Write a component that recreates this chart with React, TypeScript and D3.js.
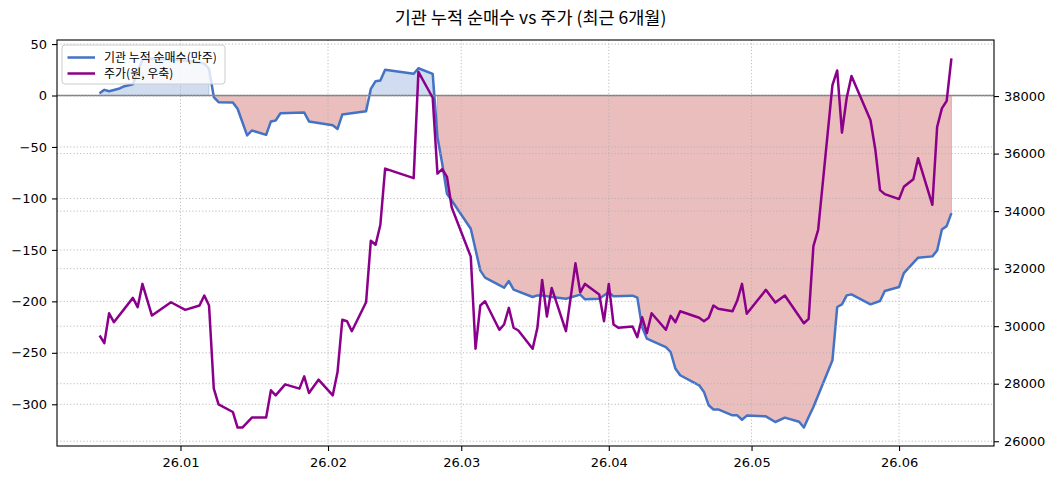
import React from "react";
import * as d3 from "d3";

// 기관 누적 순매수 (만주)
const instDates = [
  "2025-12-15", "2025-12-16", "2025-12-17", "2025-12-19", "2025-12-20", "2025-12-22", "2025-12-24",
  "2025-12-26", "2025-12-29", "2025-12-30", "2026-01-02", "2026-01-05", "2026-01-06", "2026-01-07",
  "2026-01-08", "2026-01-09", "2026-01-12", "2026-01-13", "2026-01-15", "2026-01-16", "2026-01-19",
  "2026-01-20", "2026-01-21", "2026-01-22", "2026-01-27", "2026-01-28", "2026-02-02", "2026-02-03",
  "2026-02-04", "2026-02-09", "2026-02-10", "2026-02-11", "2026-02-12", "2026-02-13", "2026-02-19",
  "2026-02-20", "2026-02-23", "2026-02-24", "2026-02-25", "2026-02-26", "2026-02-27", "2026-03-03",
  "2026-03-05", "2026-03-06", "2026-03-10", "2026-03-11", "2026-03-12", "2026-03-16", "2026-03-17",
  "2026-03-18", "2026-03-20", "2026-03-23", "2026-03-26", "2026-03-27", "2026-03-30", "2026-04-01",
  "2026-04-02", "2026-04-06", "2026-04-07", "2026-04-08", "2026-04-09", "2026-04-13", "2026-04-14",
  "2026-04-15", "2026-04-16", "2026-04-20", "2026-04-21", "2026-04-22", "2026-04-23", "2026-04-24",
  "2026-04-27", "2026-04-28", "2026-04-29", "2026-04-30", "2026-05-04", "2026-05-06", "2026-05-08",
  "2026-05-11", "2026-05-12", "2026-05-13", "2026-05-14", "2026-05-18", "2026-05-19", "2026-05-20",
  "2026-05-21", "2026-05-22", "2026-05-26", "2026-05-28", "2026-05-29", "2026-06-01", "2026-06-02",
  "2026-06-05", "2026-06-08", "2026-06-09", "2026-06-10", "2026-06-11", "2026-06-12",
];
const instValues = [
  2.2, 5.5, 4.2, 6.5, 8.7, 11, 35,
  36, 35, 35, 34, 32, 31, 26,
  -1.5, -6.5, -6.8, -12.9, -38.8, -34, -38.2,
  -25.2, -24.3, -17.2, -16.5, -25.2, -29, -32.5,
  -18.5, -15.2, 6.5, 13.9, 14.6, 25, 21.1,
  26.5, 21.1, -40.5, -66.3, -95.4, -102, -129.4,
  -169.9, -177, -186.7, -180.3, -188.6, -195.8, -194.2,
  -194.2, -195.8, -197.4, -193.5, -198, -197.4, -191,
  -195.1, -194.5, -196.4, -225, -236.2, -244.4, -249.2,
  -265.3, -271.8, -281.6, -288, -301, -305, -305,
  -310.7, -310.7, -315, -311, -311.7, -317.2, -313,
  -317, -322.6, -312.3, -302.6, -257.3, -205.5, -202.9,
  -194.2, -193.2, -202.9, -199.7, -190, -186.1, -172.5,
  -157.6, -156.3, -150.5, -130.1, -126.9, -114.3,
];

// 주가 (원)
const priceDates = [
  "2025-12-15", "2025-12-16", "2025-12-17", "2025-12-18", "2025-12-22", "2025-12-23", "2025-12-24",
  "2025-12-26", "2025-12-30", "2026-01-02", "2026-01-05", "2026-01-06", "2026-01-07", "2026-01-08",
  "2026-01-09", "2026-01-12", "2026-01-13", "2026-01-14", "2026-01-16", "2026-01-19", "2026-01-20",
  "2026-01-21", "2026-01-23", "2026-01-26", "2026-01-27", "2026-01-28", "2026-01-30", "2026-02-02",
  "2026-02-03", "2026-02-04", "2026-02-05", "2026-02-06", "2026-02-09", "2026-02-10", "2026-02-11",
  "2026-02-12", "2026-02-13", "2026-02-19", "2026-02-20", "2026-02-23", "2026-02-24", "2026-02-25",
  "2026-02-26", "2026-02-27", "2026-03-03", "2026-03-04", "2026-03-05", "2026-03-06", "2026-03-09",
  "2026-03-10", "2026-03-11", "2026-03-12", "2026-03-13", "2026-03-16", "2026-03-17", "2026-03-18",
  "2026-03-19", "2026-03-20", "2026-03-23", "2026-03-25", "2026-03-26", "2026-03-27", "2026-03-30",
  "2026-03-31", "2026-04-01", "2026-04-02", "2026-04-03", "2026-04-06", "2026-04-07", "2026-04-08",
  "2026-04-09", "2026-04-10", "2026-04-13", "2026-04-14", "2026-04-15", "2026-04-16", "2026-04-20",
  "2026-04-21", "2026-04-22", "2026-04-23", "2026-04-24", "2026-04-27", "2026-04-28", "2026-04-29",
  "2026-04-30", "2026-05-04", "2026-05-06", "2026-05-08", "2026-05-12", "2026-05-13", "2026-05-14",
  "2026-05-15", "2026-05-18", "2026-05-19", "2026-05-20", "2026-05-21", "2026-05-22", "2026-05-26",
  "2026-05-27", "2026-05-28", "2026-05-29", "2026-06-01", "2026-06-02", "2026-06-04", "2026-06-05",
  "2026-06-08", "2026-06-09", "2026-06-10", "2026-06-11", "2026-06-12",
];
const priceValues = [
  29677, 29410, 30450, 30138, 30984, 30658, 31470,
  30370, 30832, 30568, 30717, 31064, 30717, 27828,
  27284, 27017, 26476, 26476, 26823, 26823, 27769,
  27596, 27977, 27828, 28255, 27676, 28140, 27596,
  28404, 30221, 30173, 29826, 30832, 32971, 32833,
  33526, 35479, 35146, 38843, 37941, 35305, 35458,
  35191, 34126, 32417, 29216, 30717, 30866, 29874,
  30058, 30637, 29944, 29850, 29216, 29944, 31608,
  30336, 31331, 29826, 32184, 31179, 31470, 31099,
  30173, 31470, 30058, 29944, 29989, 29618, 30311,
  29757, 30450, 29874, 30360, 30138, 30520, 30291,
  30173, 30291, 30717, 30603, 30520, 30891, 31470,
  30429, 31262, 30821, 31064, 30103, 30256, 32781,
  33353, 38381, 38891, 36727, 37941, 38694, 37157,
  36152, 34730, 34591, 34418, 34844, 35111, 35839,
  34220, 36925, 37573, 37827, 39307,
];

const leftTicks = [50, 0, -50, -100, -150, -200, -250, -300];
const rightTicks = [26000, 28000, 30000, 32000, 34000, 36000, 38000];
const titleText = "기관 누적 순매수 vs 주가 (최근 6개월)";
const instLabel = "기관 누적 순매수(만주)";
const priceLabel = "주가(원, 우축)";

type Pt = { date: Date; v: number };

export default function App() {
  const ref = React.useRef<SVGSVGElement | null>(null);

  React.useEffect(() => {
    if (!ref.current) return;
    const svg = d3.select(ref.current);
    svg.selectAll("*").remove();
    const width = 1061;
    const height = 481;
    const margin = { top: 40, right: 67, bottom: 35, left: 57 };
    const parse = d3.timeParse("%Y-%m-%d");
    const inst: Pt[] = instDates.map((d, i) => ({ date: parse(d)!, v: instValues[i] }));
    const price: Pt[] = priceDates.map((d, i) => ({ date: parse(d)!, v: priceValues[i] }));

    const pad = (lo: number, hi: number) => [lo - (hi - lo) * 0.05, hi + (hi - lo) * 0.05];
    const allDates = inst.map(d => +d.date).concat(price.map(d => +d.date));
    const [t0, t1] = pad(d3.min(allDates)!, d3.max(allDates)!);
    const x = d3
      .scaleTime()
      .domain([new Date(t0), new Date(t1)])
      .range([margin.left, width - margin.right]);
    const y = d3
      .scaleLinear()
      .domain(pad(d3.min(instValues)!, d3.max(instValues)!))
      .range([height - margin.bottom, margin.top]);
    const y2 = d3
      .scaleLinear()
      .domain(pad(d3.min(priceValues)!, d3.max(priceValues)!))
      .range([height - margin.bottom, margin.top]);

    const left = margin.left;
    const right = width - margin.right;
    const top = margin.top;
    const bottom = height - margin.bottom;
    const monthTicks = x.ticks(d3.timeMonth.every(1)!);

    // fills (like fill_between with where, no interpolation)
    const area = d3
      .area<Pt>()
      .x(d => x(d.date))
      .y0(y(0))
      .y1(d => y(d.v));
    svg
      .append("path")
      .attr("d", area.defined(d => d.v >= 0)(inst) ?? "")
      .attr("fill", "#4472C4")
      .attr("fill-opacity", 0.25)
      .attr("stroke", "#4472C4")
      .attr("stroke-opacity", 0.25)
      .attr("stroke-width", 1);
    svg
      .append("path")
      .attr("d", area.defined(d => d.v < 0)(inst) ?? "")
      .attr("fill", "#CD5C5C")
      .attr("fill-opacity", 0.4)
      .attr("stroke", "#CD5C5C")
      .attr("stroke-opacity", 0.4)
      .attr("stroke-width", 1);

    const gridColor = "#b0b0b0";
    const dash = "1.1,2.2";
    const grid = svg.append("g").attr("stroke", gridColor).attr("stroke-width", 0.9).attr("stroke-dasharray", dash);
    monthTicks.forEach(t => {
      grid.append("line").attr("x1", x(t)).attr("x2", x(t)).attr("y1", top).attr("y2", bottom);
    });
    leftTicks.forEach(t => {
      grid.append("line").attr("x1", left).attr("x2", right).attr("y1", y(t)).attr("y2", y(t));
    });

    const line = d3
      .line<Pt>()
      .x(d => x(d.date))
      .y(d => y(d.v));
    svg
      .append("path")
      .datum(inst)
      .attr("fill", "none")
      .attr("stroke", "#4472C4")
      .attr("stroke-width", 2.5)
      .attr("stroke-linejoin", "round")
      .attr("d", line);

    svg
      .append("line")
      .attr("x1", left)
      .attr("x2", right)
      .attr("y1", y(0))
      .attr("y2", y(0))
      .attr("stroke", "#808080")
      .attr("stroke-width", 1.4);

    // right axis grid, then price line
    const grid2 = svg.append("g").attr("stroke", gridColor).attr("stroke-width", 0.9).attr("stroke-dasharray", dash);
    rightTicks.forEach(t => {
      grid2.append("line").attr("x1", left).attr("x2", right).attr("y1", y2(t)).attr("y2", y2(t));
    });
    const line2 = d3
      .line<Pt>()
      .x(d => x(d.date))
      .y(d => y2(d.v));
    svg
      .append("path")
      .datum(price)
      .attr("fill", "none")
      .attr("stroke", "#8B008B")
      .attr("stroke-width", 2.5)
      .attr("stroke-linejoin", "round")
      .attr("d", line2);

    // frame
    svg
      .append("rect")
      .attr("x", left)
      .attr("y", top)
      .attr("width", right - left)
      .attr("height", bottom - top)
      .attr("fill", "none")
      .attr("stroke", "#000")
      .attr("stroke-width", 1.1);

    const tickFont = "DejaVu Sans, sans-serif";
    const styleAxis = (g: d3.Selection<SVGGElement, unknown, null, undefined>) => {
      g.select(".domain").remove();
      g.selectAll(".tick line").attr("stroke", "#000").attr("stroke-width", 1.1);
      g.selectAll(".tick text").attr("fill", "#000").attr("font-size", 13).attr("font-family", tickFont);
    };
    const fmtNum = (v: d3.NumberValue) => String(v).replace("-", "\u2212");
    svg
      .append("g")
      .attr("transform", `translate(0,${bottom})`)
      .call(
        d3
          .axisBottom(x)
          .tickValues(monthTicks)
          .tickFormat(d => d3.timeFormat("%y.%m")(d as Date))
          .tickSize(5)
          .tickPadding(7)
      )
      .call(styleAxis);
    svg
      .append("g")
      .attr("transform", `translate(${left},0)`)
      .call(d3.axisLeft(y).tickValues(leftTicks).tickFormat(fmtNum).tickSize(5).tickPadding(5))
      .call(styleAxis);
    svg
      .append("g")
      .attr("transform", `translate(${right},0)`)
      .call(d3.axisRight(y2).tickValues(rightTicks).tickFormat(fmtNum).tickSize(5).tickPadding(5))
      .call(styleAxis);

    const krFont = "'Noto Sans CJK KR', 'Noto Sans', sans-serif";
    svg
      .append("text")
      .attr("x", width / 2)
      .attr("y", 24)
      .attr("text-anchor", "middle")
      .attr("font-family", krFont)
      .attr("font-size", 17.5)
      .attr("fill", "#000")
      .text(titleText);

    // legend
    const lg = svg.append("g");
    lg.append("rect")
      .attr("x", 62)
      .attr("y", 45)
      .attr("width", 163)
      .attr("height", 39)
      .attr("rx", 3)
      .attr("fill", "#fff")
      .attr("fill-opacity", 0.8)
      .attr("stroke", "#cccccc")
      .attr("stroke-width", 1);
    [
      { label: instLabel, color: "#4472C4", yy: 57.5 },
      { label: priceLabel, color: "#8B008B", yy: 73.5 },
    ].forEach(item => {
      lg.append("line")
        .attr("x1", 67.5)
        .attr("x2", 95)
        .attr("y1", item.yy)
        .attr("y2", item.yy)
        .attr("stroke", item.color)
        .attr("stroke-width", 2.5);
      lg.append("text")
        .attr("x", 104)
        .attr("y", item.yy + 4)
        .attr("font-family", krFont)
        .attr("font-size", 12)
        .attr("fill", "#000")
        .text(item.label);
    });
  }, []);

  return <svg ref={ref} width={1061} height={481} style={{ position: "absolute", left: 0, top: 0, background: "#fff" }}></svg>;
}
